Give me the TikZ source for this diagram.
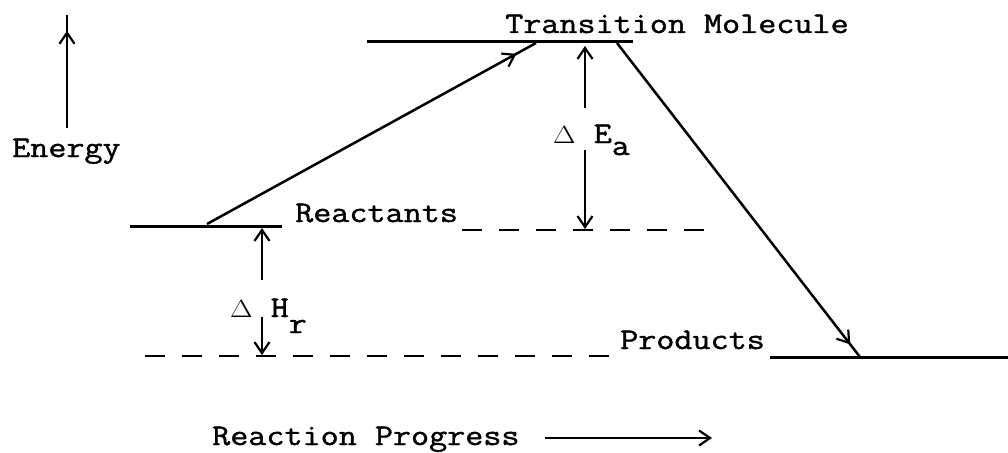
\documentclass[tikz,border=0pt]{standalone}
\usepackage{fontspec}
\newfontfamily\tw[FakeBold=1.2]{Latin Modern Mono}
\newcommand\widetxt[1]{\scalebox{1.17}[1]{#1}}
\usetikzlibrary{arrows.meta,decorations.markings}
\begin{document}
\begin{tikzpicture}[x=1pt,y=-1pt,
  lvl/.style={line width=3pt},
  conn/.style={line width=2.5pt},
  dsh/.style={line width=2.4pt, dash pattern=on 20pt off 17pt},
  lab/.style={inner sep=0pt, anchor=base west, font=\tw\fontsize{30}{36}\selectfont},
  barb/.tip={Straight Barb[length=11pt,width=15pt,line width=2.2pt]},
  tip/.style={-barb},
  midtip/.style={postaction={decorate}, decoration={markings, mark=at position #1 with {\arrow{barb}}}},
]
\useasboundingbox (0,0) rectangle (1008,452);

% labels
\node[lab] (ttl) at (505,33) {\widetxt{Transition Molecule}};
\node[lab] (en) at (12,157) {\widetxt{Energy}};
\node[lab] (rea) at (295,222) {\widetxt{Reactants}};
\node[lab] (pro) at (620,349) {\widetxt{Products}};
\node[lab] (rp) at (212,445) {\widetxt{Reaction Progress}};
\node[lab] (dea) at (553,143) {\widetxt{$\Delta$ E\raisebox{-12pt}{a}}};
\node[lab] (dhr) at (230,317) {\widetxt{$\Delta$ H\raisebox{-16pt}{r}}};

% coordinates
\coordinate (r1) at (130,226); \coordinate (r2) at (282,226);
\coordinate (t1) at (367,42);  \coordinate (t2) at (633,42);
\coordinate (p1) at (770,357); \coordinate (p2) at (1008,357);
\coordinate (rs) at (207,224); \coordinate (te) at (536,43);
\coordinate (ts) at (617,43);  \coordinate (pe) at (860,357);
\coordinate (rd1) at (462,230); \coordinate (rd2) at (712,230);
\coordinate (pd1) at (145,356); \coordinate (pd2) at (620,356);
\coordinate (e1) at (67,128);  \coordinate (e2) at (67,15);
\coordinate (ea1) at (585,108); \coordinate (ea2) at (585,46);
\coordinate (ea3) at (585,150); \coordinate (ea4) at (585,229);
\coordinate (hr1) at (262,280); \coordinate (hr2) at (262,228);
\coordinate (hr3) at (262,317); \coordinate (hr4) at (262,355);
\coordinate (rpa) at (545,438); \coordinate (rpb) at (712,438);

% energy levels
\draw[lvl] (r1) -- (r2);
\draw[lvl] (t1) -- (t2);
\draw[lvl] (p1) -- (p2);
\draw[dsh] (rd1) -- (rd2);
\draw[dsh] (pd1) -- (pd2);

% reaction path
\draw[conn, midtip=0.94] (rs) -- (te);
\draw[conn, midtip=0.96] (ts) -- (pe);

% axes
\draw[conn, midtip=0.86] (e1) -- (e2);
\draw[conn, tip] (rpa) -- (rpb);

% activation energy
\draw[conn, tip] (ea1) -- (ea2);
\draw[conn, tip] (ea3) -- (ea4);

% reaction enthalpy
\draw[conn, tip] (hr1) -- (hr2);
\draw[conn, tip] (hr3) -- (hr4);
\end{tikzpicture}
\end{document}
